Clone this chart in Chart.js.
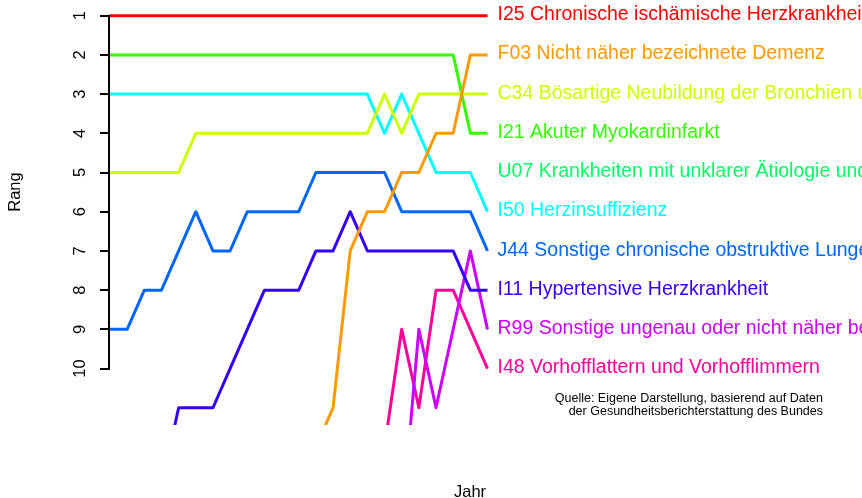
<!DOCTYPE html>
<html>
<head>
<meta charset="utf-8">
<script src="https://cdn.jsdelivr.net/npm/chart.js@4.4.1/dist/chart.umd.min.js"></script>
<style>
html,body{margin:0;padding:0;background:#fff;overflow:hidden}
canvas{display:block}
</style>
</head>
<body>
<canvas id="c" width="862" height="498"></canvas>
<script>
// ---- Data ----
const years = [1998,1999,2000,2001,2002,2003,2004,2005,2006,2007,2008,2009,2010,2011,2012,2013,2014,2015,2016,2017,2018,2019,2020];
const tickValues = [1,2,3,4,5,6,7,8,9,10];

const rankI25 = [1,1,1,1,1,1,1,1,1,1,1,1,1,1,1,1,1,1,1,1,1,1,1];
const rankF03 = [null,null,null,null,null,null,null,null,null,null,null,null,12,11,7,6,6,5,5,4,4,2,2];
const rankC34 = [5,5,5,5,5,4,4,4,4,4,4,4,4,4,4,4,3,4,3,3,3,3,3];
const rankI21 = [2,2,2,2,2,2,2,2,2,2,2,2,2,2,2,2,2,2,2,2,2,4,4];
const rankU07 = [null,null,null,null,null,null,null,null,null,null,null,null,null,null,null,null,null,null,null,null,null,null,5];
const rankI50 = [3,3,3,3,3,3,3,3,3,3,3,3,3,3,3,3,4,3,4,5,5,5,6];
const rankJ44 = [9,9,8,8,7,6,7,7,6,6,6,6,5,5,5,5,5,6,6,6,6,6,7];
const rankI11 = [null,null,null,13,11,11,11,10,9,8,8,8,7,7,6,7,7,7,7,7,7,8,8];
const rankR99 = [null,null,null,null,null,null,null,null,null,null,null,null,null,null,null,null,null,14,9,11,9,7,9];
const rankI48 = [null,null,null,null,null,null,null,null,null,null,null,null,null,null,null,null,12,9,11,8,8,9,10];

const seriesNames = [
  'I25 Chronische ischämische Herzkrankheit',
  'F03 Nicht näher bezeichnete Demenz',
  'C34 Bösartige Neubildung der Bronchien und der Lunge',
  'I21 Akuter Myokardinfarkt',
  'U07 Krankheiten mit unklarer Ätiologie und belegte Schlüsselnummern',
  'I50 Herzinsuffizienz',
  'J44 Sonstige chronische obstruktive Lungenkrankheit',
  'I11 Hypertensive Herzkrankheit',
  'R99 Sonstige ungenau oder nicht näher bezeichnete Todesursachen',
  'I48 Vorhofflattern und Vorhofflimmern'
];
const seriesRanks = [rankI25, rankF03, rankC34, rankI21, rankU07, rankI50, rankJ44, rankI11, rankR99, rankI48];
const seriesColors = ['#FF0000','#FF9900','#CCFF00','#33FF00','#00FF66','#00FFFF','#0066FF','#3300FF','#CC00FF','#FF0099'];

const yAxisTitle = 'Rang';
const xAxisTitle = 'Jahr';
const sourceLines = ['Quelle: Eigene Darstellung, basierend auf Daten', 'der Gesundheitsberichterstattung des Bundes'];

// ---- Chart ----
const FAMILY = '"Liberation Sans", Arial, Helvetica, sans-serif';

const decor = {
  id: 'decor',
  afterDraw(chart) {
    const {ctx, chartArea} = chart;
    const y = chart.scales.y;
    ctx.save();
    // y axis line (only between first and last tick, like R)
    ctx.strokeStyle = '#000';
    ctx.lineWidth = 2;
    ctx.lineCap = 'butt';
    ctx.beginPath();
    ctx.moveTo(chartArea.left - 1, y.getPixelForValue(tickValues[0]) - 1);
    ctx.lineTo(chartArea.left - 1, y.getPixelForValue(tickValues[tickValues.length - 1]) + 1);
    ctx.stroke();

    // series labels at the right end
    ctx.font = '19.5px ' + FAMILY;
    ctx.textAlign = 'left';
    ctx.textBaseline = 'alphabetic';
    chart.data.datasets.forEach(ds => {
      let v = null;
      for (let i = ds.data.length - 1; i >= 0; i--) {
        if (ds.data[i] != null) { v = ds.data[i]; break; }
      }
      if (v == null) return;
      ctx.fillStyle = ds.borderColor;
      ctx.fillText(ds.label, chartArea.right + 10, y.getPixelForValue(v) + 4.6);
    });

    // axis titles
    ctx.fillStyle = '#000';
    ctx.font = '16.5px ' + FAMILY;
    ctx.save();
    ctx.translate(20, 192);
    ctx.rotate(-Math.PI / 2);
    ctx.textAlign = 'center';
    ctx.fillText(yAxisTitle, 0, 0);
    ctx.restore();
    ctx.textAlign = 'center';
    ctx.fillText(xAxisTitle, 470, 496.5);

    // source note
    ctx.font = '12.5px ' + FAMILY;
    ctx.textAlign = 'right';
    ctx.fillText(sourceLines[0], 823, 401.5);
    ctx.fillText(sourceLines[1], 823, 415);
    ctx.restore();
  }
};

new Chart(document.getElementById('c'), {
  type: 'line',
  data: {
    labels: years,
    datasets: seriesNames.map((name, k) => ({
      label: name,
      data: seriesRanks[k],
      borderColor: seriesColors[k],
      backgroundColor: seriesColors[k],
      borderWidth: 3,
      pointRadius: 0,
      pointHoverRadius: 0,
      tension: 0,
      fill: false,
      spanGaps: false,
      borderJoinStyle: 'round',
      borderCapStyle: 'butt'
    }))
  },
  options: {
    responsive: false,
    animation: false,
    devicePixelRatio: 1,
    layout: { padding: { left: 0, right: 374.5, top: 0, bottom: 73 } },
    plugins: { legend: { display: false }, tooltip: { enabled: false }, title: { display: false } },
    events: [],
    scales: {
      x: { type: 'category', display: false },
      y: {
        type: 'linear',
        reverse: true,
        min: 0.6,
        max: 11.44,
        afterBuildTicks: s => { s.ticks = tickValues.map(v => ({ value: v })); },
        afterFit: s => {
          s.width = 110;
          s.paddingTop = 0; s.paddingBottom = 0; s.paddingLeft = 0; s.paddingRight = 0;
        },
        border: { display: false },
        grid: { drawOnChartArea: false, drawTicks: true, tickLength: 10, color: '#000', lineWidth: 2 },
        ticks: {
          color: '#000',
          font: { size: 16.5, family: FAMILY },
          minRotation: 90,
          maxRotation: 90,
          crossAlign: 'center',
          padding: 10,
          autoSkip: false
        }
      }
    }
  },
  plugins: [decor]
});
</script>
</body>
</html>
